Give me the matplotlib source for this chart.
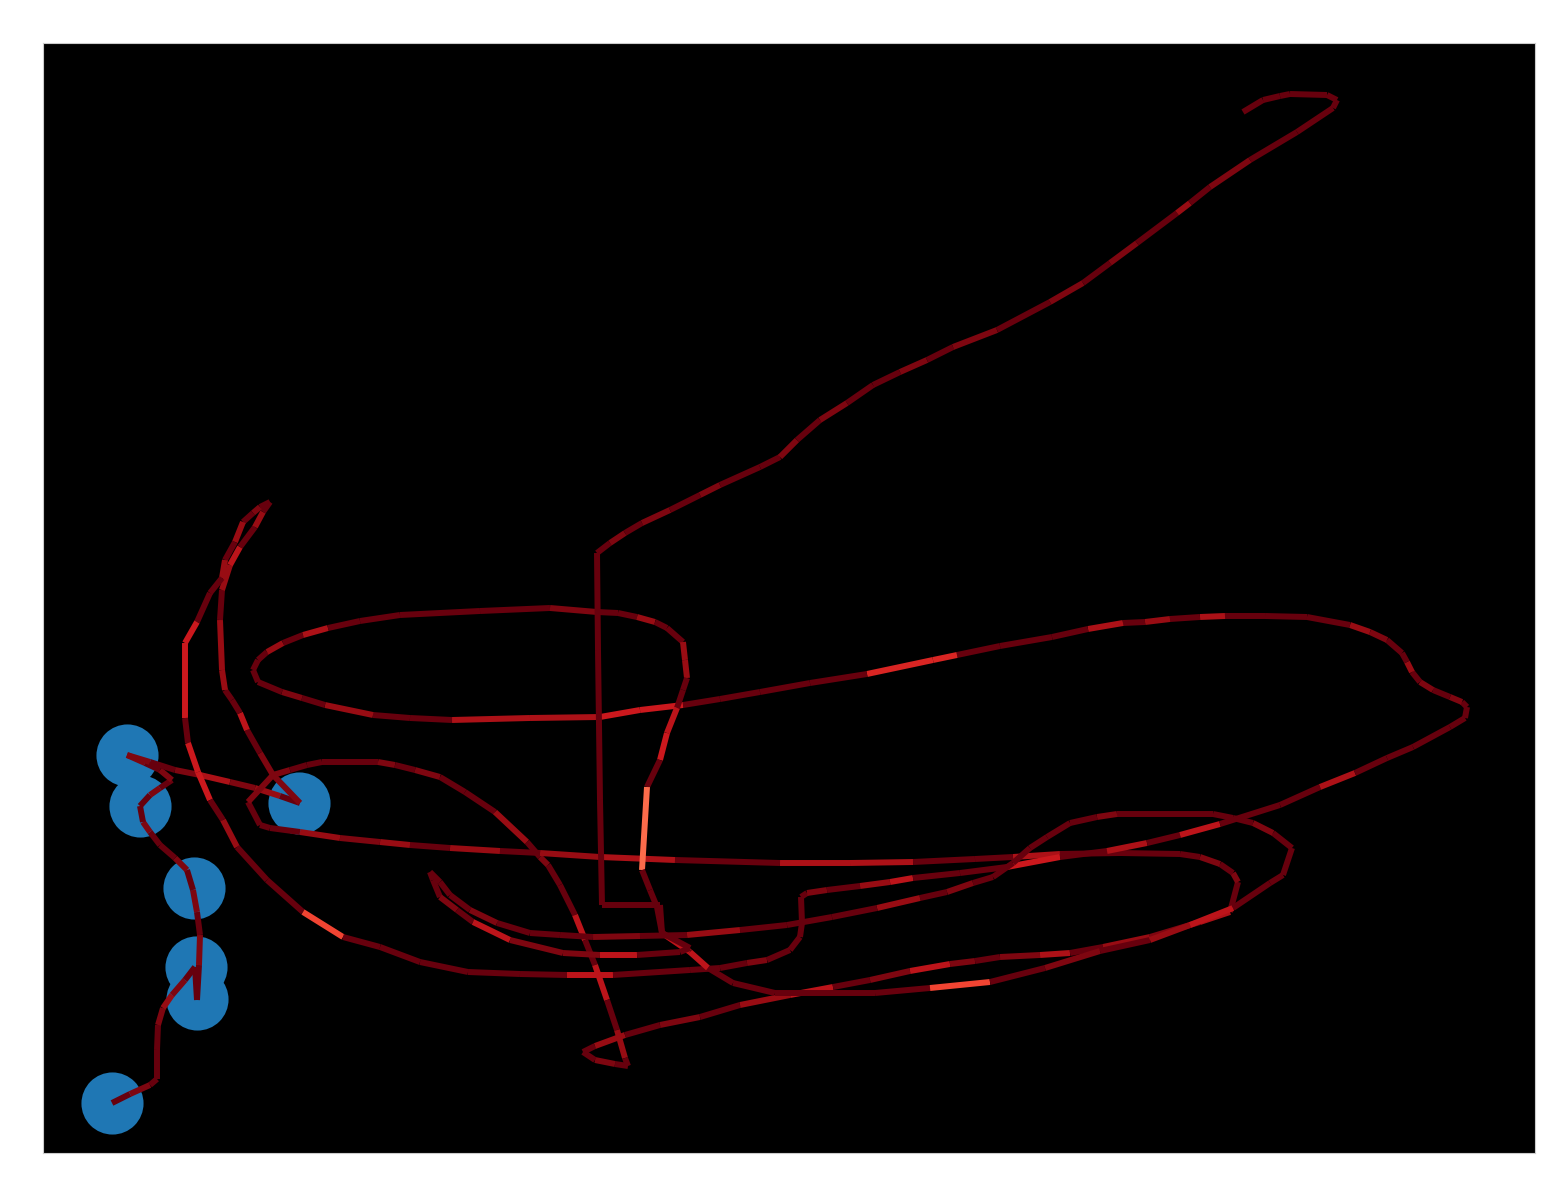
import numpy as np
import matplotlib
matplotlib.use("Agg")
import matplotlib.pyplot as plt
from matplotlib.collections import LineCollection
from matplotlib.colors import Normalize

# track legs: (x, y, value of the segment that ends at this point)
leg_start = [(112, 1103, 0.05), (130, 1094, 0.05), (150, 1085, 0.1), (157, 1079, 0.05), (157, 1050, 0.05),
             (158, 1025, 0.05), (163, 1008, 0.1), (172, 995, 0.15), (185, 980, 0.1), (195, 967, 0.05),
             (197, 1000, 0.05), (199, 965, 0.05), (200, 935, 0.1), (197, 912, 0.05), (193, 890, 0.1),
             (187, 870, 0.05), (175, 858, 0.1), (160, 845, 0.05), (150, 832, 0.05), (143, 822, 0.1),
             (140, 806, 0.05), (150, 795, 0.05), (160, 788, 0.1), (172, 780, 0.05), (160, 770, 0.1),
             (145, 763, 0.05), (127, 755, 0.1), (150, 762, 0.1), (175, 770, 0.05), (200, 775, 0.1),
             (230, 782, 0.2), (255, 788, 0.1), (280, 796, 0.15), (300, 803, 0.05)]

leg_arch = [(273, 775, 0.1), (290, 770, 0.1), (307, 765, 0.05), (322, 762, 0.05), (350, 762, 0.05),
            (378, 762, 0.05), (395, 765, 0.1), (415, 770, 0.05), (440, 777, 0.1), (465, 792, 0.05),
            (495, 812, 0.05), (527, 842, 0.15), (540, 857, 0.05), (548, 865, 0.1), (560, 885, 0.05),
            (575, 915, 0.05), (585, 940, 0.25), (595, 965, 0.05), (607, 1000, 0.25), (617, 1030, 0.05),
            (625, 1058, 0.15), (628, 1066, 0.05)]

leg_inner = [(615, 1064, 0.05), (595, 1060, 0.1), (583, 1052, 0.05), (595, 1046, 0.05), (625, 1035, 0.15),
             (660, 1025, 0.05), (700, 1017, 0.1), (740, 1005, 0.05), (790, 995, 0.15), (833, 987, 0.25),
             (870, 980, 0.05), (910, 971, 0.1), (950, 964, 0.25), (975, 961, 0.1), (1000, 957, 0.05),
             (1040, 955, 0.1), (1070, 953, 0.2), (1103, 947, 0.05), (1150, 937, 0.15), (1200, 922, 0.1),
             (1230, 912, 0.2), (1238, 882, 0.05), (1233, 873, 0.1), (1220, 864, 0.05), (1200, 857, 0.1),
             (1180, 854, 0.05), (1120, 853, 0.05), (1060, 854, 0.05), (1013, 857, 0.2), (975, 859, 0.05),
             (913, 862, 0.05), (850, 863, 0.2), (780, 863, 0.2), (675, 860, 0.05), (600, 857, 0.2),
             (540, 853, 0.15), (500, 851, 0.05), (450, 848, 0.15), (410, 845, 0.05), (380, 842, 0.15),
             (340, 838, 0.1), (300, 832, 0.15), (270, 828, 0.05), (260, 825, 0.05), (248, 802, 0.05),
             (273, 775, 0.1)]

leg_hook = [(260, 753, 0.1), (247, 730, 0.05), (240, 713, 0.25), (232, 700, 0.05), (225, 690, 0.05),
            (222, 670, 0.15), (220, 620, 0.15), (222, 590, 0.05), (230, 565, 0.15), (240, 547, 0.25),
            (255, 527, 0.05), (263, 512, 0.15), (270, 502, 0.05), (260, 507, 0.05), (253, 513, 0.1),
            (243, 522, 0.05), (235, 542, 0.15), (225, 560, 0.05), (222, 578, 0.15), (210, 593, 0.05),
            (197, 622, 0.05), (185, 643, 0.3), (185, 680, 0.3), (185, 718, 0.3), (188, 743, 0.05),
            (198, 772, 0.3), (210, 800, 0.3), (223, 820, 0.05), (237, 847, 0.15), (267, 880, 0.05),
            (303, 912, 0.05), (343, 937, 0.45), (380, 947, 0.05), (420, 962, 0.05), (468, 972, 0.05),
            (520, 974, 0.05), (567, 975, 0.05), (613, 975, 0.25), (690, 970, 0.05), (720, 968, 0.05),
            (747, 963, 0.05), (767, 960, 0.1), (790, 950, 0.05), (800, 937, 0.05), (802, 923, 0.05),
            (801, 897, 0.05)]

leg_east = [(807, 893, 0.05), (827, 890, 0.1), (860, 886, 0.05), (890, 882, 0.15), (913, 878, 0.25),
            (960, 873, 0.05), (1007, 867, 0.05), (1060, 857, 0.3), (1107, 851, 0.05), (1147, 843, 0.2),
            (1180, 835, 0.05), (1220, 824, 0.25), (1280, 805, 0.05), (1320, 787, 0.05), (1355, 773, 0.2),
            (1387, 758, 0.05), (1413, 747, 0.05), (1450, 727, 0.05), (1465, 718, 0.05), (1467, 707, 0.05),
            (1462, 702, 0.05), (1450, 697, 0.1), (1433, 690, 0.05), (1420, 682, 0.1), (1412, 672, 0.05),
            (1407, 662, 0.15), (1402, 653, 0.05), (1387, 640, 0.05), (1370, 632, 0.1), (1350, 625, 0.15),
            (1307, 617, 0.05), (1265, 616, 0.05), (1225, 616, 0.05), (1200, 617, 0.2), (1170, 619, 0.05),
            (1145, 622, 0.15), (1123, 623, 0.05), (1088, 629, 0.2), (1052, 637, 0.05), (1000, 646, 0.05),
            (957, 655, 0.05), (933, 660, 0.35), (867, 674, 0.35), (810, 683, 0.05), (760, 692, 0.05),
            (720, 699, 0.05), (683, 705, 0.05), (640, 710, 0.3), (600, 717, 0.3), (530, 718, 0.2),
            (452, 720, 0.2), (410, 718, 0.05), (373, 715, 0.05), (325, 705, 0.15), (302, 698, 0.05),
            (282, 692, 0.1), (258, 682, 0.05), (253, 670, 0.05), (258, 660, 0.05), (267, 652, 0.05),
            (283, 643, 0.15), (303, 635, 0.05), (328, 628, 0.2), (360, 621, 0.05), (400, 615, 0.05),
            (480, 611, 0.05), (550, 608, 0.05), (597, 612, 0.1), (618, 613, 0.05), (637, 617, 0.05),
            (655, 622, 0.15), (667, 628, 0.05), (683, 642, 0.05), (685, 660, 0.15), (687, 678, 0.15),
            (683, 690, 0.05), (677, 708, 0.05), (667, 733, 0.25), (660, 760, 0.3), (647, 787, 0.05),
            (642, 870, 0.55), (650, 890, 0.05), (657, 907, 0.05), (662, 933, 0.05)]

leg_outer = [(690, 952, 0.25), (708, 968, 0.25), (733, 983, 0.05), (775, 993, 0.05), (830, 993, 0.05),
             (875, 993, 0.05), (930, 988, 0.05), (990, 982, 0.45), (1045, 968, 0.05), (1100, 951, 0.1),
             (1150, 940, 0.05), (1190, 925, 0.15), (1233, 908, 0.25), (1270, 883, 0.05), (1283, 875, 0.05),
             (1292, 848, 0.05), (1273, 833, 0.05), (1253, 823, 0.1), (1233, 818, 0.05), (1213, 814, 0.05),
             (1150, 814, 0.05), (1117, 814, 0.05), (1097, 817, 0.1), (1070, 823, 0.05), (1047, 837, 0.05),
             (1030, 848, 0.05), (1013, 863, 0.05), (993, 877, 0.05), (973, 883, 0.05), (947, 892, 0.1),
             (920, 898, 0.05), (877, 908, 0.15), (832, 917, 0.05), (787, 925, 0.05), (740, 930, 0.05),
             (687, 935, 0.15), (640, 936, 0.05), (593, 937, 0.1), (560, 935, 0.05), (530, 933, 0.05),
             (497, 923, 0.05), (470, 910, 0.1), (450, 895, 0.05), (440, 882, 0.05), (430, 872, 0.05),
             (433, 880, 0.05), (440, 897, 0.05), (457, 910, 0.1), (473, 922, 0.05), (510, 940, 0.25),
             (563, 953, 0.1), (600, 955, 0.1), (637, 955, 0.25), (680, 952, 0.05), (690, 948, 0.05),
             (662, 933, 0.05)]

leg_north = [(660, 905, 0.05), (630, 905, 0.05), (602, 905, 0.05), (600, 800, 0.05), (598, 650, 0.05),
             (597, 553, 0.05), (610, 543, 0.05), (625, 533, 0.1), (642, 523, 0.05), (670, 510, 0.1),
             (700, 495, 0.05), (720, 485, 0.1), (760, 467, 0.05), (780, 457, 0.05), (797, 440, 0.1),
             (820, 420, 0.05), (847, 403, 0.1), (873, 385, 0.05), (900, 372, 0.05), (927, 360, 0.1),
             (953, 347, 0.05), (997, 330, 0.1), (1050, 302, 0.05), (1083, 283, 0.1), (1110, 263, 0.05),
             (1137, 243, 0.1), (1177, 213, 0.05), (1190, 203, 0.15), (1210, 187, 0.05), (1250, 160, 0.1),
             (1297, 132, 0.05), (1333, 108, 0.05), (1337, 100, 0.05), (1327, 95, 0.05), (1290, 94, 0.05),
             (1280, 96, 0.05), (1263, 100, 0.05), (1243, 112, 0.05)]

stops_x = [127, 140, 299, 194, 196, 197, 112]
stops_y = [755, 806, 803, 888, 967, 999, 1103]


def main():
    track = np.array(leg_start + leg_arch + leg_inner + leg_hook + leg_east + leg_outer + leg_north, dtype=float)
    pts = track[:, :2]
    segs = np.stack([pts[:-1], pts[1:]], axis=1)
    vals = track[1:, 2]

    fig = plt.figure(figsize=(15.62, 11.83), dpi=100)
    ax = fig.add_axes([43 / 1562, 30 / 1183, 1492 / 1562, 1110 / 1183])
    ax.set_facecolor("black")

    ax.scatter(stops_x, stops_y, s=2000, color="#1f77b4", zorder=1, linewidths=0)

    lc = LineCollection(segs, cmap="Reds_r", norm=Normalize(0.05, 1.05), linewidths=4.3, zorder=2)
    lc.set_array(vals)
    ax.add_collection(lc)

    ax.set_xlim(43, 1535)
    ax.set_ylim(1153, 43)
    ax.set_xticks([])
    ax.set_yticks([])
    for sp in ax.spines.values():
        sp.set_color("#cccccc")
        sp.set_linewidth(0.8)

    plt.savefig("out.png")


if __name__ == "__main__":
    main()
